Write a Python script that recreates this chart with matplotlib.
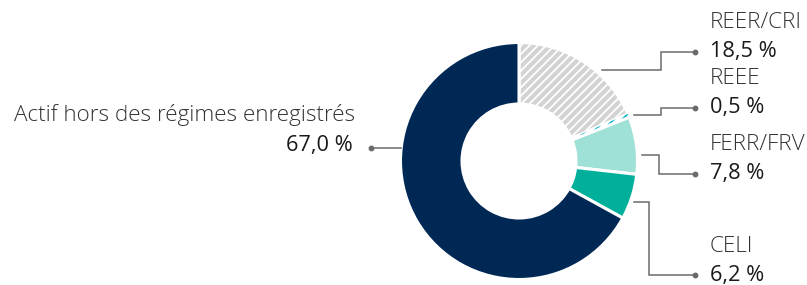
import matplotlib
matplotlib.use("Agg")
import matplotlib.pyplot as plt

# ---- data ----
categories = ["REER/CRI", "REEE", "FERR/FRV", "CELI", "Actif hors des régimes enregistrés"]
values = [18.5, 0.5, 7.8, 6.2, 67.0]
value_labels = ["18,5 %", "0,5 %", "7,8 %", "6,2 %", "67,0 %"]

colors = ["#d3d3d3", "#ffffff", "#9fe0d7", "#00b09b", "#002855"]
hatches = ["////", "////", None, None, None]
hatch_colors = ["#ffffff", "#00b0c8", None, None, None]

W, H = 807, 285
fig = plt.figure(figsize=(W / 100, H / 100), dpi=100)
ax = fig.add_axes([0, 0, 1, 1])

plt.rcParams['hatch.linewidth'] = 1.3

def Y(y):
    return H - y

cx, cy, R, r_in = 519, 161, 118.5, 57
wedges, _ = ax.pie(values, startangle=90, counterclock=False,
                   center=(cx, Y(cy)), radius=R, colors=colors,
                   wedgeprops=dict(width=R - r_in, edgecolor="white", linewidth=2.2))
for w, h, hc in zip(wedges, hatches, hatch_colors):
    if h:
        w.set_hatch(h)
        if hc == "#ffffff":
            w.set_edgecolor("white")
        else:
            w.set_edgecolor(hc)
            w.set_linewidth(0)

ax.set_xlim(0, W)
ax.set_ylim(0, H)
ax.axis("off")

line_c = "#6b6b6b"
font = "Open Sans"
fs_val = 15.7
fs_lab = 16.2

# leader lines (layout): start point, knee x, end y
leaders = [
    ((602, 70), 661, 52),
    ((634, 115), 661, 108),
    ((642, 155), 659, 174),
    ((634, 202), 649, 275),
]
tx = 710
for i, ((sx, sy), kx, ey) in enumerate(leaders):
    ex = 695
    ax.plot([sx, kx, kx, ex], [Y(sy), Y(sy), Y(ey), Y(ey)], color=line_c, lw=1.1,
            solid_joinstyle="miter")
    ax.plot([ex], [Y(ey)], marker="o", ms=3.2, color=line_c)
    ax.text(tx, Y(ey), value_labels[i], fontsize=fs_val, family=font, color="#1a1a1a",
            va="center", ha="left")
    ax.text(tx, Y(ey - 29), categories[i], fontsize=fs_lab, family=font, weight="light",
            color="#333333", va="center", ha="left")

# left label
ax.plot([371, 401], [Y(148), Y(148)], color=line_c, lw=1.1)
ax.plot([371], [Y(148)], marker="o", ms=3.2, color=line_c)
ax.text(353, Y(146), value_labels[4], fontsize=fs_val, family=font, color="#1a1a1a",
        va="center", ha="right")
ax.text(355, Y(115), categories[4], fontsize=fs_lab, family=font, weight="light",
        color="#333333", va="center", ha="right")

fig.savefig("out.png", dpi=100)
